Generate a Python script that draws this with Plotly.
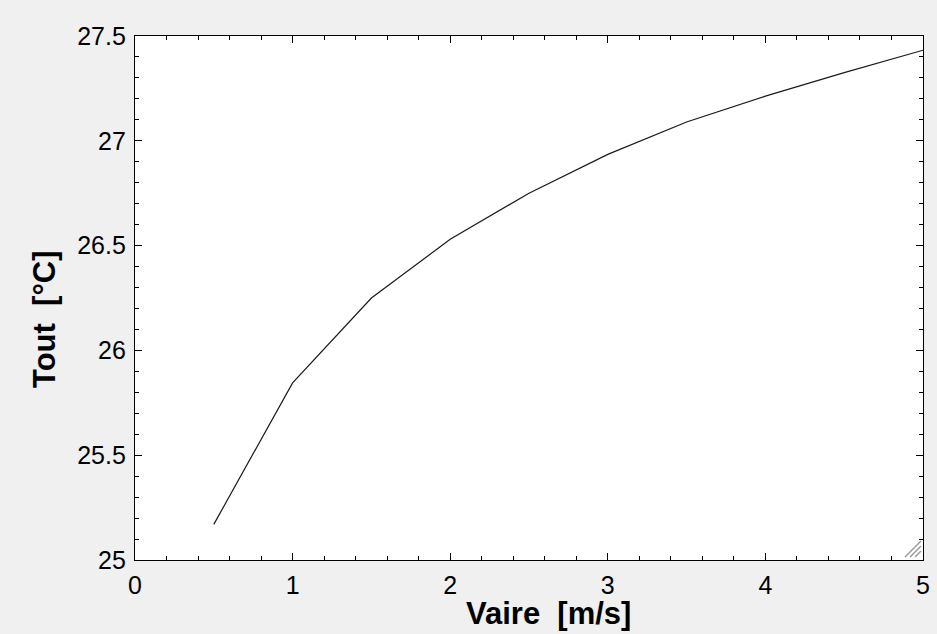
import plotly.graph_objects as go

# Air velocity vs. outlet temperature
vaire = [0.5, 1.0, 1.5, 2.0, 2.5, 3.0, 3.5, 4.0, 4.5, 5.0]
tout = [25.17, 25.845, 26.25, 26.53, 26.75, 26.935, 27.09, 27.213, 27.325, 27.432]

x_ticks = [0, 1, 2, 3, 4, 5]
y_ticks = [25, 25.5, 26, 26.5, 27, 27.5]
y_tick_text = ["25", "25.5", "26", "26.5", "27", "27.5"]

x_title = "Vaire  [m/s]"
y_title = "Tout  [°C]"

FONT = "Liberation Sans, Arial, sans-serif"
TITLE_FONT = dict(family=FONT, size=31, color="black")

fig = go.Figure()
fig.add_trace(go.Scatter(
    x=vaire, y=tout, mode="lines",
    line=dict(color="#1a1a1a", width=1.2),
    showlegend=False, hoverinfo="skip",
))

axis_common = dict(
    showgrid=False, zeroline=False, automargin=False,
    showline=True, linecolor="black", linewidth=1.3, mirror="ticks",
    ticks="inside", ticklen=7, tickwidth=1.3, tickcolor="black",
    tickfont=dict(family=FONT, size=25, color="black"),
)

fig.update_xaxes(
    range=[0, 5], tickvals=x_ticks, ticktext=[str(v) for v in x_ticks],
    minor=dict(dtick=0.2, ticks="inside", ticklen=4, tickwidth=1.3, tickcolor="black", showgrid=False),
    ticklabelstandoff=3,
    **axis_common,
)
fig.update_yaxes(
    range=[25, 27.5], tickvals=y_ticks, ticktext=y_tick_text,
    minor=dict(dtick=0.1, ticks="inside", ticklen=4, tickwidth=1.3, tickcolor="black", showgrid=False),
    ticklabelstandoff=3,
    **axis_common,
)

# Axis titles placed relative to the plot frame
fig.add_annotation(
    text=f"<b>{x_title}</b>", xref="paper", yref="paper", x=0.5, y=0,
    xanchor="center", yanchor="middle", xshift=19, yshift=-53,
    showarrow=False, font=TITLE_FONT,
)
fig.add_annotation(
    text=f"<b>{y_title}</b>", xref="paper", yref="paper", x=0, y=0.5,
    xanchor="center", yanchor="middle", xshift=-91, yshift=-21,
    textangle=-90, showarrow=False, font=TITLE_FONT,
)

# Resize grip in the lower right corner of the plot frame
for off in (6, 11, 16):
    fig.add_shape(
        type="line", xref="paper", yref="paper",
        xsizemode="pixel", ysizemode="pixel", xanchor=1, yanchor=0,
        x0=-2 - off, y0=3, x1=-2, y1=3 + off,
        line=dict(color="#9a9a9a", width=1.5),
    )

fig.update_layout(
    width=937, height=634,
    margin=dict(l=135, r=14, t=36, b=74),
    paper_bgcolor="#f0f0f0", plot_bgcolor="white",
    font=dict(family=FONT, color="black"),
)

fig.write_html("out.html")
